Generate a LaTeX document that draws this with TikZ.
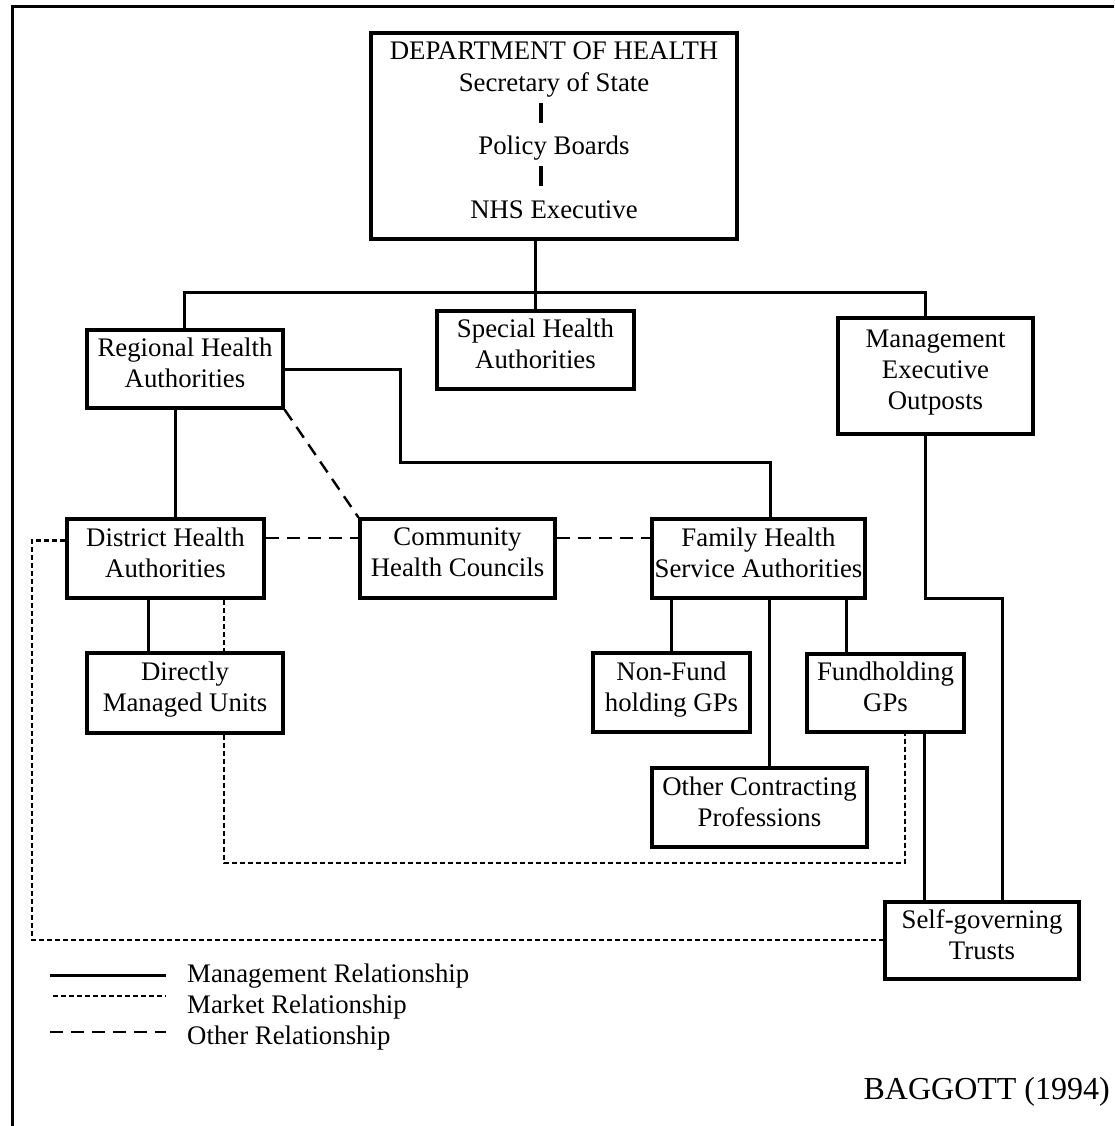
\documentclass[tikz,border=0pt]{standalone}
\usepackage{fontspec}
\setmainfont{Liberation Serif}
\begin{document}
\begin{tikzpicture}[x=1pt,y=-1pt,
  box/.style={draw, line width=3.2pt, align=center, inner sep=0pt,
    font=\fontsize{26.8}{31}\selectfont, text depth=12.3pt},
  mgmt/.style={line width=3pt},
  market/.style={line width=2.2pt, dash pattern=on 5pt off 3pt},
  other/.style={line width=2.4pt, dash pattern=on 13pt off 8pt},
  txt/.style={font=\fontsize{26.8}{31}\selectfont, inner sep=0pt}]
\useasboundingbox (0,0) rectangle (1114,1126);
% frame
\draw[line width=3pt] (12,1126) -- (12,7) -- (1114,7);

% nodes
\node[box, minimum width=366pt, minimum height=206pt,
  font=\fontsize{26.8}{31.8}\selectfont] (doh) at (554,136)
  {DEPARTMENT OF HEALTH\\Secretary of State\\[31.8pt]Policy Boards\\[31.8pt]NHS Executive};
\node[box, minimum width=197pt, minimum height=78pt] (spec) at (535.5,350) {Special Health\\Authorities};
\node[box, minimum width=196pt, minimum height=78pt] (rha) at (185,369) {Regional Health\\Authorities};
\node[box, minimum width=195pt, minimum height=116pt] (meo) at (935.5,376) {Management\\Executive\\Outposts};
\node[box, minimum width=197pt, minimum height=79pt] (dha) at (165.5,558.5) {District Health\\Authorities};
\node[box, minimum width=195pt, minimum height=79pt] (chc) at (457.5,558.5) {Community\\Health Councils};
\node[box, minimum width=213pt, minimum height=79pt] (fhsa) at (758.5,558.5) {Family Health\\Service Authorities};
\node[box, minimum width=196pt, minimum height=80pt] (dmu) at (185,693) {Directly\\Managed Units};
\node[box, minimum width=157pt, minimum height=79pt] (nonfund) at (671.5,692.5) {Non-Fund\\holding GPs};
\node[box, minimum width=157pt, minimum height=78pt] (fund) at (885.5,693) {Fundholding\\GPs};
\node[box, minimum width=215pt, minimum height=79pt] (otherc) at (759.5,807.5) {Other Contracting\\Professions};
\node[box, minimum width=194pt, minimum height=77pt] (trusts) at (982,940.5) {Self-governing\\Trusts};

% bars inside DoH box
\draw[line width=3.2pt] (541,103) -- (541,123);
\draw[line width=3.2pt] (541,166) -- (541,186);

% management connectors
\coordinate (busL) at (184,292);
\coordinate (busR) at (925,292);
\draw[mgmt] (doh.south -| spec.north) -- (spec.north);
\draw[mgmt] (busL |- rha.north) -- (busL) -- (busR) -- (busR |- meo.north);
\coordinate (k1) at (400,462);
\draw[mgmt] (rha.east) -| (k1) -| ([xshift=11.5pt]fhsa.north);
\draw[mgmt] ([xshift=-10pt]rha.south) -- ([xshift=-10pt]rha.south |- dha.north);
\draw[mgmt] ([xshift=-17.5pt]dha.south) -- ([xshift=-17.5pt]dha.south |- dmu.north);
\draw[mgmt] (nonfund.north |- fhsa.south) -- (nonfund.north);
\draw[mgmt] ([xshift=9.5pt]otherc.north |- fhsa.south) -- ([xshift=9.5pt]otherc.north);
\draw[mgmt] ([xshift=-39.5pt]fund.north |- fhsa.south) -- ([xshift=-39.5pt]fund.north);
\draw[mgmt] ([xshift=38.5pt]fund.south) -- ([xshift=38.5pt]fund.south |- trusts.north);
\coordinate (mj) at (925,598);
\draw[mgmt] ([xshift=-10.5pt]meo.south) -- ([xshift=-10.5pt]meo.south |- mj) -| ([xshift=20pt]trusts.north);

% other relationships
\draw[other] (rha.south east) -- (chc.north west);
\draw[other] ([yshift=20.5pt]dha.east) -- ([yshift=20.5pt]dha.east -| chc.west);
\draw[other] ([yshift=20.5pt]chc.east) -- ([yshift=20.5pt]chc.east -| fhsa.west);

% market relationships
\coordinate (mL) at (32,940);
\draw[market] ([yshift=18pt]dha.west) -| (mL) -- (mL -| trusts.west);
\draw[market] ([xshift=58.5pt]dha.south) -- ([xshift=58.5pt]dha.south |- dmu.north);
\coordinate (mB) at (905,863);
\draw[market] ([xshift=39pt]dmu.south) |- (mB) -- (mB |- fund.south);

% legend
\coordinate (l1a) at (50,975);  \coordinate (l1b) at (166,975);
\coordinate (l2a) at (53,996);  \coordinate (l2b) at (166,996);
\coordinate (l3a) at (50,1032); \coordinate (l3b) at (166,1032);
\draw[mgmt] (l1a) -- (l1b);
\draw[market] (l2a) -- (l2b);
\draw[other] (l3a) -- (l3b);
\node[txt, anchor=west] (lt1) at (187,976) {Management Relationship};
\node[txt, anchor=west] (lt2) at (187,1007) {Market Relationship};
\node[txt, anchor=west] (lt3) at (187,1038) {Other Relationship};

\node[font=\fontsize{32}{37}\selectfont, inner sep=0pt, anchor=east] (src) at (1110,1092) {BAGGOTT (1994)};
\end{tikzpicture}
\end{document}
